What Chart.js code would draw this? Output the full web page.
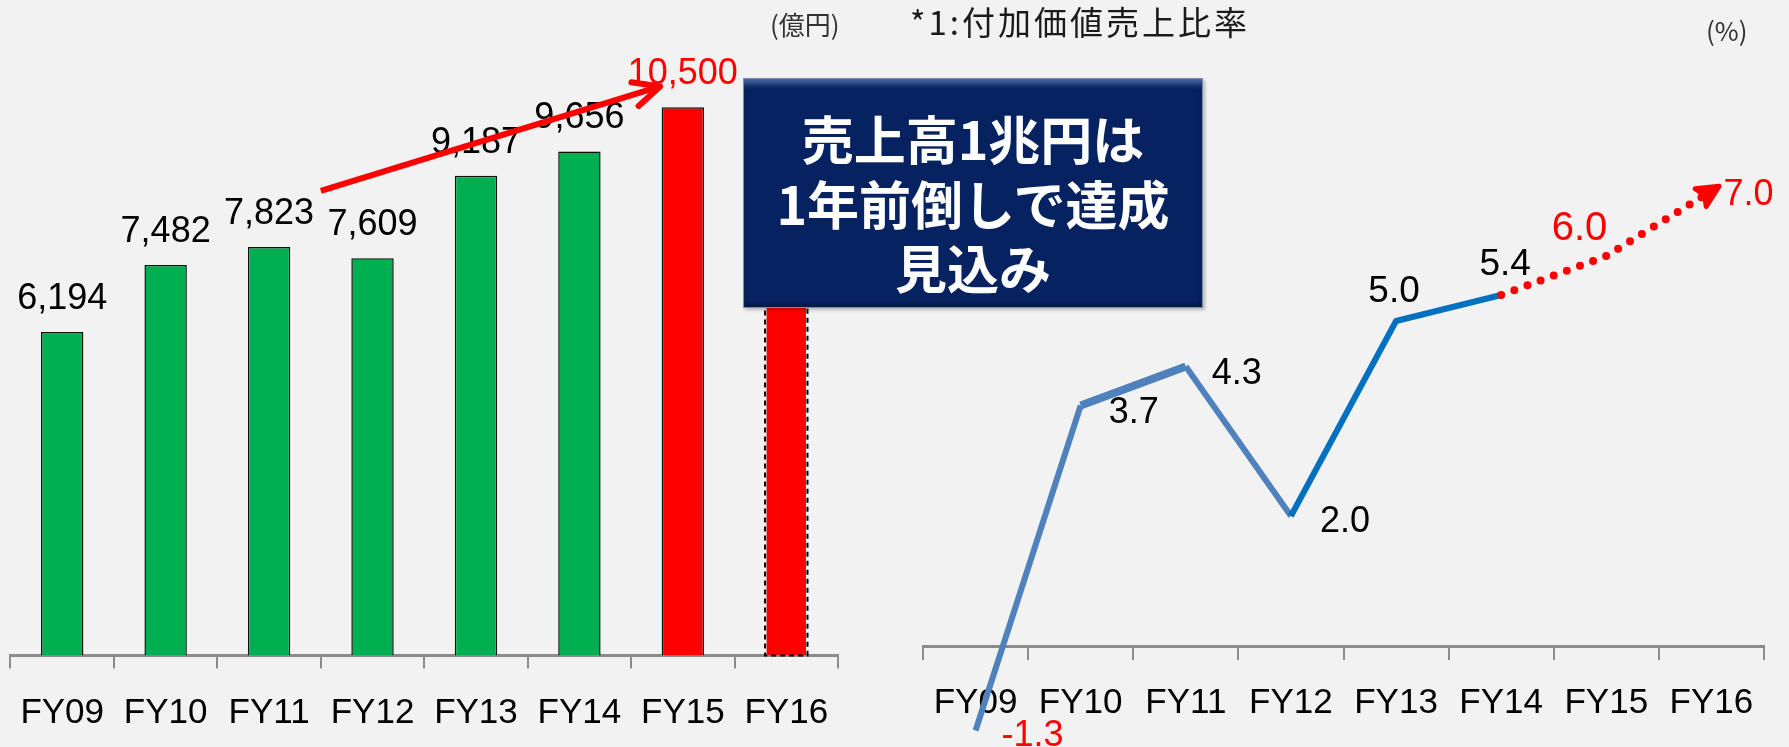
<!DOCTYPE html>
<html lang="ja">
<head>
<meta charset="utf-8">
<title>売上高と付加価値売上比率</title>
<script src="https://cdn.jsdelivr.net/npm/chart.js@4.4.1/dist/chart.umd.min.js"></script>
<style>
  html, body { margin: 0; padding: 0; background: #f2f2f2; overflow: hidden; }
  body { width: 1789px; height: 747px; position: relative; font-family: 'Noto Sans CJK JP', sans-serif; }
  #sales-wrap { position: absolute; left: -4px; top: 0; width: 884px; height: 770px; }
  #ratio-wrap { position: absolute; left: 880px; top: 0; width: 909px; height: 747px; }
  .unit { position: absolute; font-size: 26px; line-height: 26px; color: #333; }
  #ratio-title { position: absolute; left: 910px; top: 5px; font-size: 33px; line-height: 33px; letter-spacing: 3px; color: #1a1a1a; }
  #callout {
    position: absolute; left: 743px; top: 78px; width: 458px; height: 228px; z-index: 5;
    background: #062261; border: 1px solid #7d8cb0;
    box-shadow: inset 0 9px 7px -5px rgba(110, 140, 200, 0.75), inset 0 -3px 4px rgba(0, 0, 0, 0.35), 2px 2px 3px rgba(0, 0, 0, 0.25);
    color: #fff; font-weight: bold; font-size: 52px; line-height: 64.5px; text-align: center;
  }
  #callout div:first-child { margin-top: 27px; }
</style>
</head>
<body>
<div id="sales-wrap"><canvas id="sales-chart"></canvas></div>
<div id="ratio-wrap"><canvas id="ratio-chart"></canvas></div>
<div class="unit" style="left:770px; top:11px;">(億円)</div>
<div class="unit" style="left:1706px; top:17px;">(%)</div>
<div id="ratio-title">*1:付加価値売上比率</div>
<div id="callout"><div>売上高1兆円は</div><div>1年前倒しで達成</div><div>見込み</div></div>

<script>
// Sales (億円) and value-added sales ratio (%) by fiscal year

const fiscalYears = ['FY09', 'FY10', 'FY11', 'FY12', 'FY13', 'FY14', 'FY15', 'FY16'];
const salesValues = [6194, 7482, 7823, 7609, 9187, 9656, 10500, 11000];
const salesShowLabel = [true, true, true, true, true, true, true, false];
const salesForecast = [false, false, false, false, false, false, true, true];
const ratioValues = [-1.3, 3.7, 4.3, 2.0, 5.0, 5.4, 6.0, 7.0];
const ratioRedLabel = [true, false, false, false, false, false, true, true];
// trend arrow on the sales chart, in data units (category index, 億円)
const salesTrendArrow = { from: [2.5, 8900], to: [5.78, 10900] };

Chart.defaults.font.family = '"Liberation Sans", Arial, sans-serif';
Chart.defaults.color = '#000';

document.addEventListener('DOMContentLoaded', function() {
    initSalesChart();
    initRatioChart();
});

const salesDecor = {
    id: 'salesDecor',
    afterDatasetsDraw(chart) {
        const ctx = chart.ctx;
        const bars = chart.getDatasetMeta(0).data;
        ctx.save();

        // dashed outline for the FY16 plan bar
        const plan = bars[7];
        ctx.setLineDash([5, 4]);
        ctx.lineWidth = 2;
        ctx.strokeStyle = '#000';
        ctx.strokeRect(plan.x - plan.width / 2, plan.y, plan.width, plan.base - plan.y);
        ctx.setLineDash([]);

        // value labels
        ctx.font = '36px "Liberation Sans", Arial, sans-serif';
        ctx.textAlign = 'center';
        ctx.textBaseline = 'alphabetic';
        bars.forEach((bar, i) => {
            if (!salesShowLabel[i]) return;
            ctx.fillStyle = salesForecast[i] ? '#ff0000' : '#000';
            ctx.fillText(salesValues[i].toLocaleString('en-US'), bar.x, bar.y - 23);
        });

        // red trend arrow
        const xs = chart.scales.x, ys = chart.scales.y;
        const x1 = xs.getPixelForValue(salesTrendArrow.from[0]);
        const y1 = ys.getPixelForValue(salesTrendArrow.from[1]);
        const x2 = xs.getPixelForValue(salesTrendArrow.to[0]);
        const y2 = ys.getPixelForValue(salesTrendArrow.to[1]);
        const ang = Math.atan2(y2 - y1, x2 - x1);
        ctx.strokeStyle = '#ff0000';
        ctx.lineWidth = 6;
        ctx.lineCap = 'butt';
        ctx.beginPath();
        ctx.moveTo(x1, y1);
        ctx.lineTo(x2, y2);
        ctx.stroke();
        ctx.lineCap = 'round';
        ctx.lineJoin = 'round';
        ctx.beginPath();
        ctx.moveTo(x2 - 29 * Math.cos(ang - 0.44), y2 - 29 * Math.sin(ang - 0.44));
        ctx.lineTo(x2, y2);
        ctx.lineTo(x2 - 29 * Math.cos(ang + 0.44), y2 - 29 * Math.sin(ang + 0.44));
        ctx.stroke();
        ctx.restore();
    }
};

function initSalesChart() {
    const ctx = document.getElementById('sales-chart').getContext('2d');
    new Chart(ctx, {
        type: 'bar',
        data: {
            labels: fiscalYears,
            datasets: [{
                data: salesValues,
                backgroundColor: salesForecast.map(f => f ? '#ff0000' : '#00b050'),
                borderColor: salesValues.map((v, i) => i === 7 ? 'rgba(0,0,0,0)' : '#111'),
                borderWidth: 1.5,
                barPercentage: 0.41,
                categoryPercentage: 1
            }]
        },
        options: {
            responsive: true,
            maintainAspectRatio: false,
            animation: false,
            layout: { padding: { left: 6, right: 42, top: 29, bottom: 11.5 } },
            plugins: { legend: { display: false }, tooltip: { enabled: false } },
            scales: {
                x: {
                    z: 1,
                    grid: { drawOnChartArea: false, tickLength: 13, color: '#8c8c8c', lineWidth: 2 },
                    border: { color: '#8c8c8c', width: 3 },
                    ticks: { font: { size: 35 }, padding: 24, color: '#000' }
                },
                y: { display: false, min: 0, max: 12000 }
            }
        },
        plugins: [salesDecor]
    });
}

// label placement around each point: offset from the point, size, alignment
const ratioLabelPlace = [
    { dx: 26, dy: 15, size: 36, align: 'left' },
    { dx: 28, dy: 17, size: 36, align: 'left' },
    { dx: 26, dy: 17, size: 36, align: 'left' },
    { dx: 29, dy: 16, size: 36, align: 'left' },
    { dx: -2, dy: -19, size: 37, align: 'center' },
    { dx: 4, dy: -20, size: 37, align: 'center' },
    { dx: 1, dy: -16, size: 40, align: 'right' },
    { dx: 12, dy: 14, size: 36, align: 'left' }
];

const ratioDecor = {
    id: 'ratioDecor',
    afterDatasetsDraw(chart) {
        const ctx = chart.ctx;
        const pts = chart.getDatasetMeta(0).data;
        ctx.save();
        ctx.textBaseline = 'alphabetic';
        pts.forEach((p, i) => {
            const o = ratioLabelPlace[i];
            ctx.font = o.size + 'px "Liberation Sans", Arial, sans-serif';
            ctx.textAlign = o.align;
            ctx.fillStyle = ratioRedLabel[i] ? '#ff0000' : '#000';
            ctx.fillText(ratioValues[i].toFixed(1), p.x + o.dx, p.y + o.dy);
        });

        // arrow head on the forecast line
        const a = pts[pts.length - 2], b = pts[pts.length - 1];
        const ang = Math.atan2(b.y - a.y, b.x - a.x);
        const tx = b.x + Math.cos(ang) * 9, ty = b.y + Math.sin(ang) * 9;
        ctx.fillStyle = '#ff0000';
        ctx.strokeStyle = '#ff0000';
        ctx.lineWidth = 5;
        ctx.lineJoin = 'round';
        ctx.beginPath();
        ctx.moveTo(tx, ty);
        ctx.lineTo(tx - 24 * Math.cos(ang - 0.45), ty - 24 * Math.sin(ang - 0.45));
        ctx.lineTo(tx - 17 * Math.cos(ang), ty - 17 * Math.sin(ang));
        ctx.lineTo(tx - 24 * Math.cos(ang + 0.45), ty - 24 * Math.sin(ang + 0.45));
        ctx.closePath();
        ctx.fill();
        ctx.stroke();
        ctx.restore();
    }
};

function initRatioChart() {
    const ctx = document.getElementById('ratio-chart').getContext('2d');
    const segColor = i => i <= 2 ? '#4f81bd' : (i <= 4 ? '#0070c0' : '#ff0000');
    new Chart(ctx, {
        type: 'line',
        data: {
            labels: fiscalYears,
            datasets: [{
                data: ratioValues,
                borderColor: '#4f81bd',
                borderWidth: 6,
                pointRadius: 0,
                tension: 0,
                fill: false,
                borderJoinStyle: 'round',
                segment: {
                    borderColor: c => segColor(c.p0DataIndex),
                    borderWidth: c => c.p0DataIndex === 1 ? 8 : (c.p0DataIndex >= 5 ? 8 : 6),
                    borderDash: c => c.p0DataIndex >= 5 ? [0, 14] : [],
                    borderCapStyle: c => c.p0DataIndex >= 5 ? 'round' : 'butt'
                }
            }]
        },
        options: {
            responsive: true,
            maintainAspectRatio: false,
            animation: false,
            layout: { padding: { left: 43, right: 25, top: 61, bottom: 3.5 } },
            plugins: { legend: { display: false }, tooltip: { enabled: false } },
            scales: {
                x: {
                    position: { y: 0 },
                    offset: true,
                    grid: { offset: true, drawOnChartArea: false, tickLength: 12, color: '#8c8c8c', lineWidth: 2 },
                    border: { color: '#8c8c8c', width: 3 },
                    ticks: { font: { size: 35 }, padding: 24, color: '#000' }
                },
                y: { display: false, min: -1.5, max: 9 }
            }
        },
        plugins: [ratioDecor]
    });
}
</script>
</body>
</html>
